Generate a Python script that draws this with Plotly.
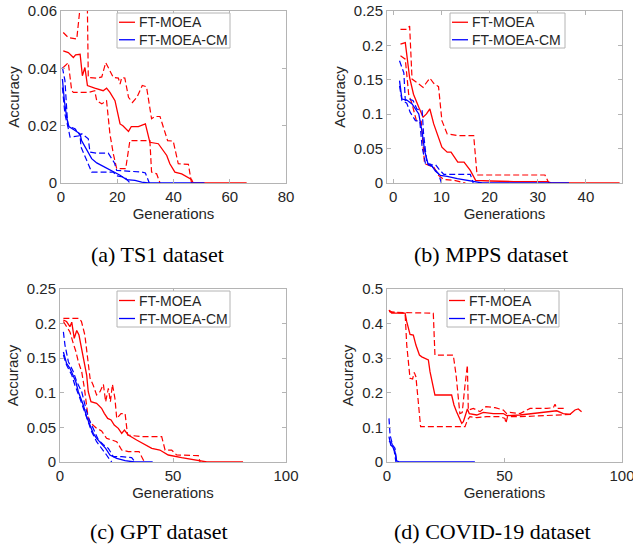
import plotly.graph_objects as go

# ---------------- data ----------------
# (a) TS1
ts1_ft_mean_x = [0.8, 2.6, 4.4, 5.2, 6.8, 7.6, 8.5, 9.4, 12, 15, 16.2, 17.4, 19.2, 21, 22, 24, 25, 27.5, 30, 31.6, 34.6, 37.6, 38.7, 40.5, 42.9, 46.4, 47, 66]
ts1_ft_mean_y = [0.0461, 0.0455, 0.0438, 0.0447, 0.0449, 0.0374, 0.0403, 0.034, 0.0331, 0.0322, 0.0331, 0.0316, 0.0287, 0.0206, 0.020, 0.018, 0.0197, 0.0197, 0.0206, 0.0142, 0.0137, 0.0096, 0.0067, 0.0038, 0.0032, 0.0012, 0, 0]
ts1_ft_up_x = [0.8, 2.6, 5.6, 6.4, 7.5, 8.8, 9.4, 9.7, 12.7, 14.5, 15.9, 16.8, 18.6, 20.4, 21, 21.6, 22.7, 24, 25.4, 27, 28.9, 30.4, 32.2, 33.4, 35.2, 37.9, 39.9, 41.7, 45.3, 46.4]
ts1_ft_up_y = [0.0525, 0.0507, 0.0502, 0.06, 0.068, 0.07, 0.06, 0.0368, 0.0366, 0.037, 0.042, 0.0403, 0.0368, 0.0366, 0.0345, 0.0368, 0.0366, 0.0299, 0.0281, 0.0299, 0.034, 0.0336, 0.0224, 0.0232, 0.0232, 0.0148, 0.0146, 0.0067, 0.0065, 0]
ts1_ft_lo_x = [0.8, 2.6, 3.8, 4.4, 9.7, 12, 12.7, 14.5, 16.2, 17.4, 18.6, 19.8, 23, 24.5, 31.6, 32.2, 34, 35.2]
ts1_ft_lo_y = [0.0403, 0.042, 0.0322, 0.0316, 0.0316, 0.0322, 0.0287, 0.0276, 0.0287, 0.0171, 0.0102, 0.005, 0.005, 0.0148, 0.0148, 0.0038, 0.0032, 0]
ts1_cm_mean_x = [0.5, 1.2, 2, 2.8, 5, 6.8, 7.3, 9.1, 10.9, 12.7, 15.6, 18, 21, 23.3, 26.3, 28.7, 31, 51]
ts1_cm_mean_y = [0.0363, 0.0287, 0.023, 0.0197, 0.0183, 0.0171, 0.0148, 0.0114, 0.0085, 0.007, 0.0056, 0.0044, 0.0027, 0.0012, 0.0009, 0.0003, 0, 0]
ts1_cm_up_x = [0.5, 1.4, 2.4, 5, 6.8, 7.4, 9.7, 10.3, 12.7, 16.8, 19, 19.8, 28.7, 30, 31.4]
ts1_cm_up_y = [0.0403, 0.0357, 0.02, 0.0189, 0.0166, 0.0172, 0.0154, 0.0108, 0.0104, 0.0104, 0.007, 0.0044, 0.0038, 0.0035, 0]
ts1_cm_lo_x = [0.5, 1.4, 2.6, 3.2, 6.8, 7.1, 9.1, 10.9, 18.6, 19.8, 22.7, 24.5]
ts1_cm_lo_y = [0.0333, 0.024, 0.019, 0.016, 0.0165, 0.0126, 0.008, 0.0038, 0.0038, 0.0025, 0.002, 0]

# (b) MPPS
mpps_ft_mean_x = [1.5, 2.5, 3.4, 4.2, 5.3, 6.2, 6.9, 7.6, 8.4, 10.1, 11.2, 12, 13.4, 14.7, 16, 17.1, 20.2, 25, 32, 33, 47]
mpps_ft_mean_y = [0.2017, 0.204, 0.153, 0.129, 0.11, 0.0956, 0.1004, 0.1076, 0.0859, 0.0521, 0.0449, 0.0449, 0.0304, 0.0304, 0.0183, 0.0039, 0.0029, 0.002, 0.002, 0, 0]
mpps_ft_up_x = [1.5, 2.8, 3.4, 3.9, 4.9, 6.2, 6.8, 7.6, 8.4, 9.4, 10.1, 11.2, 13.3, 16.7, 17.4, 31.5, 32.3]
mpps_ft_up_y = [0.2234, 0.2234, 0.228, 0.151, 0.146, 0.139, 0.145, 0.1525, 0.145, 0.14, 0.0907, 0.0714, 0.069, 0.069, 0.0116, 0.0116, 0]
mpps_ft_lo_x = [1.5, 2.5, 3.2, 3.9, 4.8, 5.8, 6.5, 7.4, 8.4, 9.4, 10.5, 12.6, 14, 15]
mpps_ft_lo_y = [0.185, 0.18, 0.129, 0.115, 0.0907, 0.0898, 0.028, 0.0256, 0.0232, 0.011, 0.005, 0.0039, 0.0014, 0]
mpps_cm_mean_x = [1.3, 1.8, 2.8, 3.9, 5.3, 6.0, 6.5, 7.2, 7.8, 8.75, 9.8, 11.2, 13.3, 15.7, 17.4, 18.5, 36.5]
mpps_cm_mean_y = [0.1487, 0.122, 0.1206, 0.115, 0.1004, 0.0738, 0.0473, 0.028, 0.027, 0.0174, 0.011, 0.0097, 0.0063, 0.0029, 0.001, 0, 0]
mpps_cm_up_x = [1.3, 2.2, 2.5, 3.2, 4.1, 4.9, 6.0, 6.3, 7.0, 7.7, 8.75, 9.4, 10.5, 16.0, 16.6]
mpps_cm_up_y = [0.1776, 0.16, 0.12, 0.122, 0.12, 0.1076, 0.105, 0.071, 0.028, 0.026, 0.027, 0.0208, 0.0125, 0.0125, 0]
mpps_cm_lo_x = [1.3, 1.8, 2.8, 3.5, 4.6, 5.5, 6.0, 6.7, 8.1, 9.4, 10.0]
mpps_cm_lo_y = [0.141, 0.12, 0.116, 0.103, 0.0907, 0.09, 0.052, 0.028, 0.024, 0.0135, 0]

# (c) GPT
gpt_ft_mean_x = [1.5, 2.9, 4.4, 5.2, 6.3, 7.4, 8.4, 9.3, 10.3, 11.8, 12.5, 13.7, 16.2, 18.4, 19.6, 21.1, 22.6, 24, 25.8, 27.3, 28.5, 30.2, 33.9, 37.6, 40.6, 44.2, 47.9, 53.8, 59.7, 62.7, 65, 81]
gpt_ft_mean_y = [0.205, 0.203, 0.1956, 0.202, 0.1787, 0.19, 0.1835, 0.169, 0.152, 0.1257, 0.1016, 0.0872, 0.0848, 0.0776, 0.0703, 0.063, 0.0607, 0.0535, 0.0486, 0.0414, 0.0462, 0.039, 0.0318, 0.0246, 0.0197, 0.0173, 0.0101, 0.0063, 0.0034, 0.0014, 0, 0]
gpt_ft_up_x = [1.5, 5, 8.4, 9.5, 11, 12.5, 13.3, 14.7, 16.2, 17.7, 19.2, 20.2, 21.4, 22.3, 23.2, 24.3, 25.1, 27, 28.8, 29.9, 36, 45, 46.5, 49.4, 51.6, 61.2, 62]
gpt_ft_up_y = [0.2076, 0.2076, 0.2076, 0.203, 0.1835, 0.1426, 0.121, 0.111, 0.0968, 0.1016, 0.1122, 0.087, 0.1065, 0.087, 0.1122, 0.092, 0.063, 0.07, 0.07, 0.039, 0.0366, 0.0366, 0.0173, 0.0173, 0.0101, 0.0092, 0]
gpt_ft_lo_x = [1.5, 4.4, 5.9, 7, 8.1, 9.6, 10.8, 11.8, 12.5, 14, 16.2, 18.4, 20.6, 22.9, 25.1, 27.3, 30.2, 35, 36.1, 37.3]
gpt_ft_lo_y = [0.203, 0.188, 0.171, 0.16, 0.145, 0.1305, 0.1065, 0.0751, 0.063, 0.055, 0.0486, 0.045, 0.0342, 0.0318, 0.0294, 0.0173, 0.015, 0.015, 0.0077, 0]
gpt_cm_mean_x = [1.5, 2.9, 4.4, 5.9, 7, 8.1, 9.3, 10.3, 11.8, 13.3, 14.7, 16.2, 18.4, 20.2, 22.1, 25.1, 28.8, 31.7, 33, 41]
gpt_cm_mean_y = [0.159, 0.1426, 0.1354, 0.1233, 0.116, 0.1016, 0.092, 0.0824, 0.0655, 0.0535, 0.0414, 0.0342, 0.027, 0.0197, 0.0101, 0.0053, 0.0019, 0.0005, 0, 0]
gpt_cm_up_x = [1.5, 2.2, 3.7, 5.9, 7.4, 9.6, 11.8, 13.3, 14.7, 17, 19.2, 21.4, 23.6, 27.3, 31.7, 33.2]
gpt_cm_up_y = [0.188, 0.169, 0.145, 0.1305, 0.116, 0.1016, 0.0727, 0.058, 0.0486, 0.0318, 0.025, 0.0197, 0.0077, 0.0077, 0.0063, 0]
gpt_cm_lo_x = [1.5, 2.9, 5.2, 6.6, 8.8, 11, 12.5, 14, 16.2, 19.2, 20.6, 22.1, 22.9]
gpt_cm_lo_y = [0.1546, 0.14, 0.1257, 0.111, 0.092, 0.0727, 0.0583, 0.0438, 0.0294, 0.0173, 0.0101, 0.0029, 0]

# (d) COVID-19
cov_ft_mean_x = [0.85, 2, 7.7, 8.4, 9.8, 11.2, 12.3, 13.8, 14.8, 17.6, 18.3, 19.4, 20.4, 27.5, 28.5, 29.6, 31, 31.8, 32.5, 33.2, 34.2, 35, 38.2, 41, 45.2, 49.5, 50.9, 56.6, 62.3, 67.9, 70.8, 72.2, 75, 77.9, 80, 81.4, 82.8]
cov_ft_mean_y = [0.439, 0.43, 0.43, 0.4056, 0.369, 0.367, 0.338, 0.309, 0.304, 0.295, 0.261, 0.2225, 0.1936, 0.1936, 0.1647, 0.1455, 0.126, 0.1118, 0.1166, 0.131, 0.1532, 0.14, 0.1358, 0.1435, 0.14, 0.14, 0.134, 0.1358, 0.14, 0.1455, 0.1455, 0.148, 0.14, 0.1378, 0.1503, 0.1532, 0.1455]
cov_ft_up_x = [0.85, 2, 19.7, 20.4, 28.2, 29.4, 31, 32, 33.2, 34.2, 34.6, 36.7, 39.6, 42.1, 46, 49.5, 50.9, 52.3, 56.6, 60.9, 68, 70.8, 71.5, 72.2, 75.7]
cov_ft_up_y = [0.439, 0.4326, 0.43, 0.309, 0.309, 0.2514, 0.14, 0.143, 0.2225, 0.28, 0.15, 0.155, 0.1455, 0.16, 0.157, 0.15, 0.14, 0.1435, 0.14, 0.155, 0.155, 0.157, 0.1667, 0.155, 0.155]
cov_ft_lo_x = [0.85, 7.7, 8.4, 9.8, 10.9, 11.6, 12.3, 13.3, 14.3, 22.6, 33.2, 34.2, 35.3, 38.2, 42.4, 48.1, 50.2, 50.6, 51.3, 56.6, 67.9, 73.6, 79.3]
cov_ft_lo_y = [0.4345, 0.43, 0.338, 0.2418, 0.24, 0.259, 0.2466, 0.1647, 0.1021, 0.1021, 0.1021, 0.121, 0.131, 0.128, 0.131, 0.131, 0.126, 0.1118, 0.131, 0.131, 0.134, 0.1358, 0.1378]
cov_cm_mean_x = [0.85, 1.6, 2.4, 3.4, 4.1, 4.8, 5.5, 37.4]
cov_cm_mean_y = [0.0732, 0.049, 0.0443, 0.0299, 0.003, 0.001, 0, 0]
cov_cm_up_x = [0.85, 1.3, 2.4, 3.4, 4.1]
cov_cm_up_y = [0.126, 0.078, 0.049, 0.0395, 0]
cov_cm_lo_x = [0.85, 2, 3, 3.8]
cov_cm_lo_y = [0.06, 0.055, 0.035, 0]

series_names = ["FT-MOEA", "FT-MOEA-CM"]
captions = ["(a) TS1 dataset", "(b) MPPS dataset", "(c) GPT dataset", "(d) COVID-19 dataset"]
x_label = "Generations"
y_label = "Accuracy"

ts1_yticks = [0, 0.02, 0.04, 0.06]
ts1_yticktext = ["0", "0.02", "0.04", "0.06"]
mpps_yticks = [0, 0.05, 0.1, 0.15, 0.2, 0.25]
mpps_yticktext = ["0", "0.05", "0.1", "0.15", "0.2", "0.25"]
gpt_yticks = [0, 0.05, 0.1, 0.15, 0.2, 0.25]
gpt_yticktext = ["0", "0.05", "0.1", "0.15", "0.2", "0.25"]
cov_yticks = [0, 0.1, 0.2, 0.3, 0.4, 0.5]
cov_yticktext = ["0", "0.1", "0.2", "0.3", "0.4", "0.5"]
ts1_xticks = [0, 20, 40, 60, 80]
mpps_xticks = [0, 10, 20, 30, 40]
gpt_xticks = [0, 50, 100]
cov_xticks = [0, 50, 100]

# ---------------- figure ----------------
RED = "#ff0000"
BLUE = "#0000ff"
COLORS = [RED, BLUE]
W, H = 633, 550
fig = go.Figure()

panels = [
    dict(ft=(ts1_ft_mean_x, ts1_ft_mean_y, ts1_ft_up_x, ts1_ft_up_y, ts1_ft_lo_x, ts1_ft_lo_y),
         cm=(ts1_cm_mean_x, ts1_cm_mean_y, ts1_cm_up_x, ts1_cm_up_y, ts1_cm_lo_x, ts1_cm_lo_y),
         xr=[0, 80], yr=[0, 0.06], xt=ts1_xticks, yt=ts1_yticks, ytt=ts1_yticktext,
         px=(61, 286), py=(11, 183), leg=(117, 13, 230, 48)),
    dict(ft=(mpps_ft_mean_x, mpps_ft_mean_y, mpps_ft_up_x, mpps_ft_up_y, mpps_ft_lo_x, mpps_ft_lo_y),
         cm=(mpps_cm_mean_x, mpps_cm_mean_y, mpps_cm_up_x, mpps_cm_up_y, mpps_cm_lo_x, mpps_cm_lo_y),
         xr=[-1.3, 47.5], yr=[0, 0.25], xt=mpps_xticks, yt=mpps_yticks, ytt=mpps_yticktext,
         px=(387, 622), py=(11, 183), leg=(450, 13, 565, 48)),
    dict(ft=(gpt_ft_mean_x, gpt_ft_mean_y, gpt_ft_up_x, gpt_ft_up_y, gpt_ft_lo_x, gpt_ft_lo_y),
         cm=(gpt_cm_mean_x, gpt_cm_mean_y, gpt_cm_up_x, gpt_cm_up_y, gpt_cm_lo_x, gpt_cm_lo_y),
         xr=[0, 100], yr=[0, 0.25], xt=gpt_xticks, yt=gpt_yticks, ytt=gpt_yticktext,
         px=(60, 286), py=(289, 462), leg=(117, 291, 230, 327)),
    dict(ft=(cov_ft_mean_x, cov_ft_mean_y, cov_ft_up_x, cov_ft_up_y, cov_ft_lo_x, cov_ft_lo_y),
         cm=(cov_cm_mean_x, cov_cm_mean_y, cov_cm_up_x, cov_cm_up_y, cov_cm_lo_x, cov_cm_lo_y),
         xr=[0, 100], yr=[0, 0.5], xt=cov_xticks, yt=cov_yticks, ytt=cov_yticktext,
         px=(387, 622), py=(289, 462), leg=(447, 291, 559, 327)),
]

AXCOL = "#b4b4b4"
TXT = "#262626"
FONT = "Liberation Sans, Arial, Helvetica, sans-serif"
layout = dict(width=W, height=H, margin=dict(l=0, r=0, t=0, b=0, pad=0),
              paper_bgcolor="white", plot_bgcolor="white", showlegend=False,
              font=dict(family=FONT, size=15, color=TXT))
annotations = []
shapes = []

for i, p in enumerate(panels):
    k = "" if i == 0 else str(i + 1)
    xa, ya = "x" + k, "y" + k
    for (data, col, name) in [(p["ft"], RED, series_names[0]), (p["cm"], BLUE, series_names[1])]:
        mx, my, ux, uy, lx, ly = data
        fig.add_trace(go.Scatter(x=ux, y=uy, mode="lines", xaxis=xa, yaxis=ya, name=name + " bound",
                                 line=dict(color=col, width=1.2, dash="6px,3px"), hoverinfo="skip"))
        fig.add_trace(go.Scatter(x=lx, y=ly, mode="lines", xaxis=xa, yaxis=ya, name=name + " bound",
                                 line=dict(color=col, width=1.2, dash="6px,3px"), hoverinfo="skip"))
        fig.add_trace(go.Scatter(x=mx, y=my, mode="lines", xaxis=xa, yaxis=ya, name=name,
                                 line=dict(color=col, width=1.3)))
    x0, x1 = p["px"]
    y0, y1 = p["py"]
    axcommon = dict(showline=True, linecolor=AXCOL, linewidth=1, mirror="ticks", ticks="inside",
                    ticklen=4, tickcolor=AXCOL, showgrid=False, zeroline=False, automargin=False,
                    ticklabeloverflow="allow",
                    tickfont=dict(family=FONT, size=15, color=TXT))
    layout["xaxis" + k] = dict(domain=[x0 / W, x1 / W], range=p["xr"], anchor=ya,
                               tickvals=p["xt"], title=dict(text=x_label, standoff=0,
                               font=dict(family=FONT, size=15, color=TXT)), **axcommon)
    layout["yaxis" + k] = dict(domain=[1 - y1 / H, 1 - y0 / H], range=p["yr"], anchor=xa,
                               tickvals=p["yt"], ticktext=p["ytt"], title=dict(text=y_label, standoff=4,
                               font=dict(family=FONT, size=15, color=TXT)), **axcommon)
    # legend box (manual, MATLAB-like compact legend)
    bx0, by0, bx1, by1 = p["leg"]
    shapes.append(dict(type="rect", xref="paper", yref="paper",
                       x0=bx0 / W, x1=bx1 / W, y0=1 - by1 / H, y1=1 - by0 / H,
                       line=dict(color=AXCOL, width=1), fillcolor="white", layer="above"))
    rowh = (by1 - by0) / 2
    for j, (name, col) in enumerate(zip(series_names, COLORS)):
        cy = by0 + rowh * (j + 0.5) + 0.5
        shapes.append(dict(type="line", xref="paper", yref="paper",
                           x0=(bx0 + 2) / W, x1=(bx0 + 18) / W, y0=1 - cy / H, y1=1 - cy / H,
                           line=dict(color=col, width=1.3), layer="above"))
        annotations.append(dict(text=name, x=(bx0 + 20) / W, y=1 - cy / H, xref="paper", yref="paper",
                                showarrow=False, xanchor="left", yanchor="middle",
                                font=dict(family=FONT, size=14, color=TXT)))

cap_pos = [(157, 254), (491, 254), (159, 531), (492, 531)]
for (cx, cy), text in zip(cap_pos, captions):
    annotations.append(dict(text=text, x=cx / W, y=1 - cy / H, xref="paper", yref="paper",
                            showarrow=False, xanchor="center", yanchor="middle",
                            font=dict(family="Liberation Serif, Times New Roman, serif", size=22, color="black")))
layout["annotations"] = annotations
layout["shapes"] = shapes
fig.update_layout(**layout)
fig.write_html("out.html", config={"displayModeBar": False},
               post_script="document.body.style.margin='0';document.body.style.overflow='hidden';")
